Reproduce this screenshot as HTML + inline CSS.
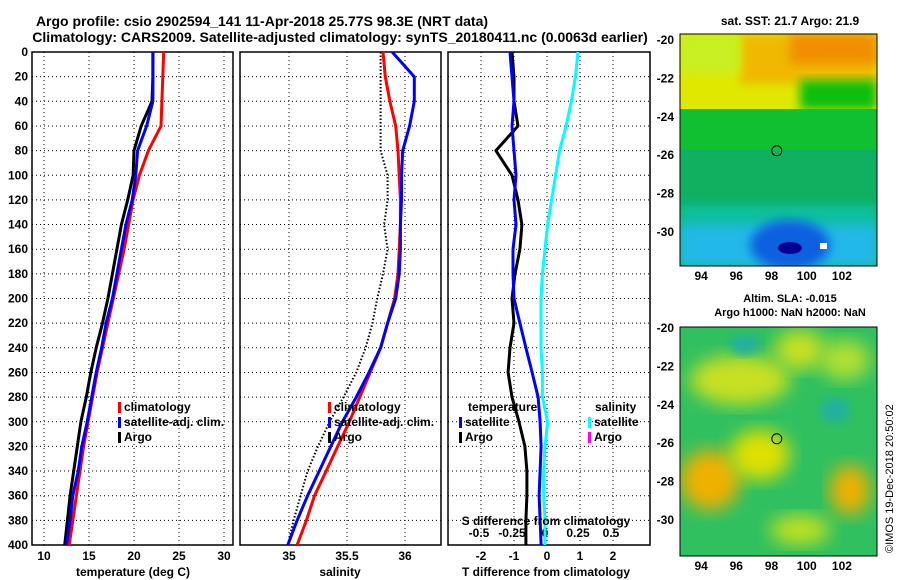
<!DOCTYPE html>
<html><head><meta charset="utf-8"><style>
body{margin:0;background:#fff;}
svg{display:block;font-family:"Liberation Sans",sans-serif;font-weight:bold;}
</style></head><body>
<svg id="c" width="900" height="580">
<defs>
<filter id="blur" x="-20%" y="-20%" width="140%" height="140%"><feGaussianBlur stdDeviation="9"/></filter>
<filter id="blur2" x="-20%" y="-20%" width="140%" height="140%"><feGaussianBlur stdDeviation="5"/></filter>
<clipPath id="m1"><rect x="680" y="34" width="197" height="232"/></clipPath>
<clipPath id="m2"><rect x="680" y="327" width="197" height="229"/></clipPath>
</defs>
<text x="262" y="26" font-size="14" text-anchor="middle">Argo profile: csio 2902594_141 11-Apr-2018 25.77S 98.3E (NRT data)</text>
<text x="340" y="42" font-size="14" text-anchor="middle">Climatology: CARS2009. Satellite-adjusted climatology: synTS_20180411.nc (0.0063d earlier)</text>
<g id="maps">
<g clip-path="url(#m1)">
<rect x="680" y="34" width="197" height="232" fill="#11b850"/>
<rect x="680" y="34" width="197" height="75" fill="#e0e800"/>
<rect x="740" y="34" width="137" height="50" fill="#f0b800" filter="url(#blur2)"/>
<rect x="790" y="34" width="87" height="30" fill="#f09000" filter="url(#blur2)"/>
<rect x="680" y="34" width="60" height="40" fill="#c8f020" filter="url(#blur2)"/>
<rect x="800" y="80" width="77" height="30" fill="#10c010" filter="url(#blur2)"/>
<rect x="680" y="109" width="197" height="50" fill="#10c030"/>
<rect x="680" y="150" width="197" height="60" fill="#10b060"/>
<rect x="680" y="205" width="197" height="61" fill="#10c0a0" filter="url(#blur2)"/>
<rect x="680" y="225" width="197" height="41" fill="#20b8e8" filter="url(#blur2)"/>
<ellipse cx="790" cy="245" rx="40" ry="25" fill="#1060e0" filter="url(#blur2)"/>
<ellipse cx="790" cy="248" rx="12" ry="6" fill="#000090"/>
<rect x="820" y="243" width="7" height="6" fill="#fff"/>
</g>
<rect x="680" y="34" width="197" height="232" fill="none" stroke="#000"/>
<text x="790" y="25" font-size="12" text-anchor="middle">sat. SST: 21.7 Argo: 21.9</text>
<g clip-path="url(#m2)">
<rect x="680" y="327" width="197" height="229" fill="#30c060"/>
<ellipse cx="740" cy="380" rx="50" ry="25" fill="#c8e020" filter="url(#blur)"/>
<ellipse cx="800" cy="350" rx="25" ry="20" fill="#c8e020" filter="url(#blur)"/>
<ellipse cx="845" cy="360" rx="25" ry="20" fill="#b0e030" filter="url(#blur)"/>
<ellipse cx="710" cy="480" rx="30" ry="30" fill="#f0b000" filter="url(#blur)"/>
<ellipse cx="760" cy="455" rx="30" ry="25" fill="#e0e000" filter="url(#blur)"/>
<ellipse cx="850" cy="490" rx="20" ry="25" fill="#f0b000" filter="url(#blur)"/>
<ellipse cx="800" cy="530" rx="30" ry="15" fill="#c0e020" filter="url(#blur)"/>
<ellipse cx="745" cy="345" rx="15" ry="10" fill="#20b0a0" filter="url(#blur2)"/>
<ellipse cx="835" cy="410" rx="15" ry="12" fill="#20b0a0" filter="url(#blur2)"/>
</g>
<rect x="680" y="327" width="197" height="229" fill="none" stroke="#000"/>
<text x="790" y="302" font-size="11" text-anchor="middle">Altim. SLA: -0.015</text>
<text x="790" y="316" font-size="11" text-anchor="middle">Argo h1000: NaN h2000: NaN</text>
<text transform="translate(893,553) rotate(-90)" font-size="11" font-weight="normal">©IMOS 19-Dec-2018 20:50:02</text>
</g>
</svg>
<script>
const depths=[0,20,40,60,80,100,120,140,160,180,200,220,240,260,280,300,320,340,360,380,400];
const tempClim=[23.3,23.2,23.1,23.0,21.6,20.6,19.9,19.4,18.9,18.3,17.7,17.1,16.5,15.9,15.4,14.9,14.4,14.0,13.6,13.2,12.8];
const tempSat=[22.1,22.1,22.1,21.4,20.4,20.2,19.8,19.1,18.6,18.1,17.6,16.9,16.4,15.8,15.3,14.8,14.2,13.8,13.2,12.9,12.5];
const tempArgo=[22.1,22.1,22.0,20.8,20.0,19.9,19.3,18.6,18.1,17.6,17.1,16.5,15.8,15.2,14.7,14.1,13.7,13.3,12.9,12.6,12.3];
const salClim=[35.81,35.83,35.87,35.92,35.94,35.95,35.96,35.96,35.95,35.94,35.91,35.85,35.79,35.70,35.61,35.52,35.42,35.32,35.22,35.15,35.07];
const salSat=[35.89,36.08,36.08,36.04,35.98,35.97,35.97,35.96,35.96,35.95,35.92,35.85,35.79,35.69,35.58,35.46,35.36,35.26,35.16,35.07,34.99];
const salArgo=[35.79,35.79,35.79,35.79,35.79,35.85,35.85,35.82,35.85,35.81,35.76,35.72,35.66,35.58,35.47,35.35,35.25,35.16,35.10,35.04,34.99];
const tdiffArgo=[-1.06,-1.0,-1.0,-0.88,-1.55,-1.06,-0.88,-0.76,-0.82,-0.97,-1.06,-1.0,-1.12,-1.18,-1.06,-0.85,-0.67,-0.61,-0.61,-0.64,-0.64];
const tdiffSat=[-1.12,-1.06,-1.0,-1.06,-1.0,-0.94,-1.0,-0.94,-1.03,-1.03,-1.0,-0.82,-0.64,-0.45,-0.27,-0.21,-0.18,-0.21,-0.24,-0.21,-0.18];
const sdiffSat=[0.25,0.23,0.20,0.16,0.11,0.08,0.05,0.02,0.0,-0.02,-0.03,-0.03,-0.03,-0.02,-0.02,0.02,0.0,-0.01,-0.01,0.0,0.0];
const depthTicks=[0,20,40,60,80,100,120,140,160,180,200,220,240,260,280,300,320,340,360,380,400];
const tempTicks=[10,15,20,25,30];
const salTicks=[35,35.5,36];
const tdTicks=[-2,-1,0,1,2];
const sdTicks=[-0.5,-0.25,0,0.25,0.5];
const sdTickLabels=["-0.5","-0.25","0","0.25","0.5"];
const lonTicks=[94,96,98,100,102];
const latTicks=[-20,-22,-24,-26,-28,-30];

const NS="http://www.w3.org/2000/svg";
const svg=document.getElementById('c');
function mk(tag,attrs,parent){const e=document.createElementNS(NS,tag);for(const k in attrs)e.setAttribute(k,attrs[k]);(parent||svg).appendChild(e);return e;}
const Y0=52,Y1=545;
const yD=d=>Y0+d*(Y1-Y0)/400;
const xT=t=>44+(t-10)*9;
const xS=s=>289+(s-35)*116;
const xTD=v=>547+v*33;
const xSD=v=>545+v*132;
const panels=[[32,233],[240,441],[448,650]];
panels.forEach((p,i)=>{
  const g=mk('g',{});
  
  
  for(let k=1;k<depthTicks.length-1;k++){
    const l=mk('line',{x1:p[0],x2:p[1],y1:yD(depthTicks[k]),y2:yD(depthTicks[k]),stroke:'#000','stroke-dasharray':'1 3','stroke-width':1},g);
    
    
  }
  const r=mk('rect',{x:p[0],y:Y0,width:p[1]-p[0],height:Y1-Y0,fill:'none',stroke:'#000','stroke-width':1.5},g);
  
  
});
function vgrid(vals,fx,labels,ly){
  vals.forEach((v,i)=>{
    const x=fx(v);
    const l=mk('line',{x1:x,x2:x,y1:Y0,y2:Y1,stroke:'#000','stroke-dasharray':'1 3'});
    
    
    if(labels){const t=mk('text',{x:x,y:ly,'font-size':12,'text-anchor':'middle'});t.textContent=labels[i];
    
    }
  });
}
vgrid(tempTicks,xT,tempTicks.map(String),560);
vgrid(salTicks,xS,salTicks.map(String),560);
vgrid(tdTicks,xTD,tdTicks.map(String),560);
sdTicks.forEach((v,i)=>{const t=mk('text',{x:xSD(v),y:537,'font-size':12,'text-anchor':'middle'});t.textContent=sdTickLabels[i];

});
depthTicks.forEach(d=>{const t=mk('text',{x:28,y:yD(d)+4,'font-size':12,'text-anchor':'end'});t.textContent=d;

});
function series(vals,fx,color,name,dash,w){
  const pts=vals.map((v,i)=>fx(v).toFixed(1)+','+yD(depths[i]).toFixed(1)).join(' ');
  const a={points:pts,fill:'none',stroke:color,'stroke-width':w||3,'stroke-linejoin':'round'};
  if(dash)a['stroke-dasharray']=dash;
  const l=mk('polyline',a);
  
  
}
series(tempClim,xT,'#f00','temp-climatology-line');
series(tempArgo,xT,'#000','temp-argo-line');
series(tempSat,xT,'#00f','temp-satellite-line');
series(salArgo,xS,'#000','sal-argo-line','1.5 2',2);
series(salClim,xS,'#f00','sal-climatology-line');
series(salSat,xS,'#00f','sal-satellite-line');
series(sdiffSat,xSD,'#0ff','sdiff-satellite-line');
series(tdiffArgo,xTD,'#000','tdiff-argo-line');
series(tdiffSat,xTD,'#00f','tdiff-satellite-line');
function leg(x,y,color,label,name){
  const r=mk('rect',{x:x,y:y-9,width:3,height:11,fill:color});
  
  
  const t=mk('text',{x:x+6,y:y,'font-size':12});t.textContent=label;
  
  
}
leg(118,411,'#f00','climatology','legend-climatology');
leg(118,426,'#00f','satellite-adj. clim.','legend-satellite-adj');
leg(118,441,'#000','Argo','legend-argo');
leg(328,411,'#f00','climatology','legend2-climatology');
leg(328,426,'#00f','satellite-adj. clim.','legend2-satellite-adj');
leg(328,441,'#000','Argo','legend2-argo');
leg(459,426,'#00f','satellite','legend-t-satellite');
leg(459,441,'#000','Argo','legend-t-argo');
leg(588,426,'#0ff','satellite','legend-s-satellite');
leg(588,441,'#f0f','Argo','legend-s-argo');
[[468,411,'temperature','legend-temp-heading'],[595,411,'salinity','legend-sal-heading'],[546,525,'S difference from climatology','s-diff-axis-title'],[133,576,'temperature (deg C)','temp-axis-title'],[340,576,'salinity','sal-axis-title'],[546,576,'T difference from climatology','t-diff-axis-title']].forEach(a=>{
  const t=mk('text',{x:a[0],y:a[1],'font-size':12,'text-anchor':a[0]===468||a[0]===595?'start':'middle'});t.textContent=a[2];
  
  
});
// map axes
const lonX=lon=>680+(lon-92.8)*17.6;
const latY1=lat=>34+(-20-lat)*19.2+6;
const latY2=lat=>327+(-20-lat)*19.2+1;
lonTicks.forEach(lon=>{
  [[280],[570]].forEach(a=>{const t=mk('text',{x:lonX(lon),y:a[0],'font-size':12,'text-anchor':'middle'});t.textContent=lon;
  
  });
});
latTicks.forEach(lat=>{
  [latY1,latY2].forEach(f=>{const t=mk('text',{x:674,y:f(lat)+4,'font-size':12,'text-anchor':'end'});t.textContent=lat;
  
  });
});
[latY1,latY2].forEach(f=>{const c=mk('circle',{cx:lonX(98.3),cy:f(-25.77),r:5,fill:'none',stroke:'#000','stroke-width':1});

});
</script>
</body></html>
